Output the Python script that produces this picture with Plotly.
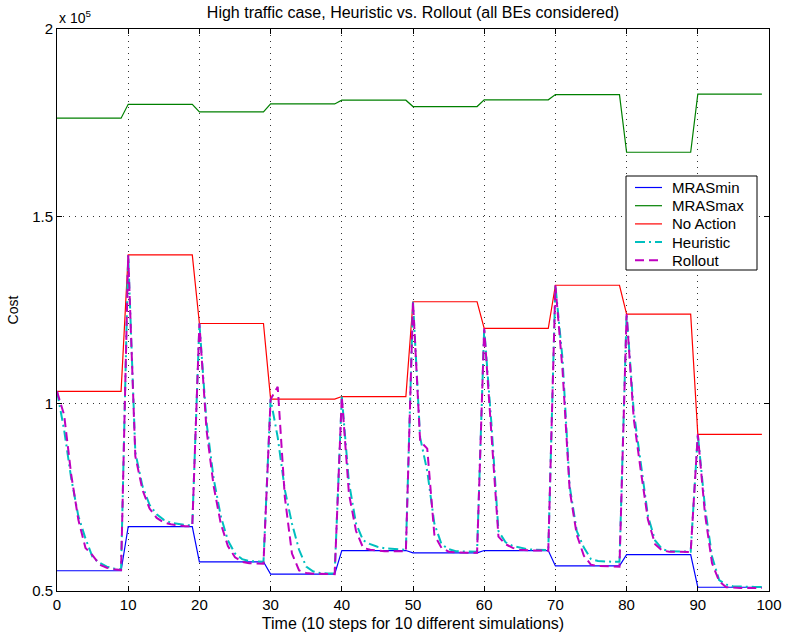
import plotly.graph_objects as go

# x axis: time step index (10 steps for each of 10 simulations)
time_steps = list(range(100))

# Cost values, in units of 1e5
mras_min = [
    0.554, 0.554, 0.554, 0.554, 0.554, 0.554, 0.554, 0.554, 0.554, 0.554,
    0.672, 0.672, 0.672, 0.672, 0.672, 0.672, 0.672, 0.672, 0.672, 0.672,
    0.578, 0.578, 0.578, 0.578, 0.578, 0.578, 0.578, 0.578, 0.578, 0.578,
    0.545, 0.545, 0.545, 0.545, 0.545, 0.545, 0.545, 0.545, 0.545, 0.545,
    0.608, 0.608, 0.608, 0.608, 0.608, 0.608, 0.608, 0.608, 0.608, 0.608,
    0.602, 0.602, 0.602, 0.602, 0.602, 0.602, 0.602, 0.602, 0.602, 0.602,
    0.608, 0.608, 0.608, 0.608, 0.608, 0.608, 0.608, 0.608, 0.608, 0.608,
    0.567, 0.567, 0.567, 0.567, 0.567, 0.567, 0.567, 0.567, 0.567, 0.567,
    0.597, 0.597, 0.597, 0.597, 0.597, 0.597, 0.597, 0.597, 0.597, 0.597,
    0.510, 0.510, 0.510, 0.510, 0.510, 0.510, 0.510, 0.510, 0.510, 0.510,
]

mras_max = [
    1.762, 1.762, 1.762, 1.762, 1.762, 1.762, 1.762, 1.762, 1.762, 1.762,
    1.799, 1.799, 1.799, 1.799, 1.799, 1.799, 1.799, 1.799, 1.799, 1.799,
    1.779, 1.779, 1.779, 1.779, 1.779, 1.779, 1.779, 1.779, 1.779, 1.779,
    1.800, 1.800, 1.800, 1.800, 1.800, 1.800, 1.800, 1.800, 1.800, 1.800,
    1.810, 1.810, 1.810, 1.810, 1.810, 1.810, 1.810, 1.810, 1.810, 1.810,
    1.793, 1.793, 1.793, 1.793, 1.793, 1.793, 1.793, 1.793, 1.793, 1.793,
    1.811, 1.811, 1.811, 1.811, 1.811, 1.811, 1.811, 1.811, 1.811, 1.811,
    1.825, 1.825, 1.825, 1.825, 1.825, 1.825, 1.825, 1.825, 1.825, 1.825,
    1.671, 1.671, 1.671, 1.671, 1.671, 1.671, 1.671, 1.671, 1.671, 1.671,
    1.826, 1.826, 1.826, 1.826, 1.826, 1.826, 1.826, 1.826, 1.826, 1.826,
]

no_action = [
    1.033, 1.033, 1.033, 1.033, 1.033, 1.033, 1.033, 1.033, 1.033, 1.033,
    1.397, 1.397, 1.397, 1.397, 1.397, 1.397, 1.397, 1.397, 1.397, 1.397,
    1.214, 1.214, 1.214, 1.214, 1.214, 1.214, 1.214, 1.214, 1.214, 1.214,
    1.012, 1.012, 1.012, 1.012, 1.012, 1.012, 1.012, 1.012, 1.012, 1.012,
    1.019, 1.019, 1.019, 1.019, 1.019, 1.019, 1.019, 1.019, 1.019, 1.019,
    1.272, 1.272, 1.272, 1.272, 1.272, 1.272, 1.272, 1.272, 1.272, 1.272,
    1.201, 1.201, 1.201, 1.201, 1.201, 1.201, 1.201, 1.201, 1.201, 1.201,
    1.316, 1.316, 1.316, 1.316, 1.316, 1.316, 1.316, 1.316, 1.316, 1.316,
    1.239, 1.239, 1.239, 1.239, 1.239, 1.239, 1.239, 1.239, 1.239, 1.239,
    0.918, 0.918, 0.918, 0.918, 0.918, 0.918, 0.918, 0.918, 0.918, 0.918,
]

heuristic = [
    1.033, 0.930, 0.800, 0.700, 0.640, 0.590, 0.575, 0.565, 0.560, 0.558,
    1.397, 0.870, 0.780, 0.730, 0.705, 0.690, 0.682, 0.678, 0.676, 0.675,
    1.214, 0.950, 0.800, 0.700, 0.635, 0.600, 0.585, 0.580, 0.578, 0.578,
    1.012, 0.910, 0.770, 0.680, 0.610, 0.565, 0.552, 0.548, 0.547, 0.547,
    1.019, 0.790, 0.680, 0.635, 0.625, 0.618, 0.614, 0.612, 0.610, 0.610,
    1.272, 0.910, 0.820, 0.680, 0.625, 0.612, 0.606, 0.605, 0.605, 0.605,
    1.201, 0.950, 0.660, 0.630, 0.620, 0.615, 0.612, 0.610, 0.610, 0.609,
    1.316, 1.120, 0.780, 0.660, 0.616, 0.585, 0.580, 0.578, 0.578, 0.578,
    1.239, 0.980, 0.840, 0.700, 0.635, 0.612, 0.606, 0.605, 0.605, 0.605,
    0.918, 0.725, 0.592, 0.529, 0.517, 0.512, 0.512, 0.511, 0.511, 0.511,
]

rollout = [
    1.033, 0.970, 0.810, 0.690, 0.615, 0.595, 0.570, 0.562, 0.558, 0.556,
    1.397, 0.860, 0.770, 0.720, 0.695, 0.683, 0.678, 0.675, 0.673, 0.673,
    1.214, 0.930, 0.780, 0.680, 0.620, 0.590, 0.578, 0.574, 0.573, 0.573,
    1.012, 1.045, 0.750, 0.600, 0.555, 0.548, 0.546, 0.545, 0.545, 0.545,
    1.019, 0.760, 0.660, 0.615, 0.610, 0.607, 0.606, 0.606, 0.606, 0.606,
    1.272, 0.900, 0.880, 0.650, 0.615, 0.605, 0.603, 0.602, 0.602, 0.602,
    1.201, 0.920, 0.645, 0.625, 0.615, 0.610, 0.608, 0.608, 0.608, 0.607,
    1.316, 1.090, 0.770, 0.650, 0.594, 0.570, 0.567, 0.566, 0.565, 0.565,
    1.239, 0.960, 0.820, 0.690, 0.625, 0.608, 0.605, 0.604, 0.604, 0.604,
    0.918, 0.707, 0.574, 0.526, 0.510, 0.508, 0.508, 0.508, 0.508, 0.508,
]

series_names = ["MRASmin", "MRASmax", "No Action", "Heuristic", "Rollout"]
x_ticks = [0, 10, 20, 30, 40, 50, 60, 70, 80, 90, 100]
y_ticks = [0.5, 1, 1.5, 2]
y_tick_labels = ["0.5", "1", "1.5", "2"]

FONT = "Liberation Sans, Arial, Helvetica, sans-serif"

styles = [
    dict(color="#0000FF", width=1.2, dash="solid"),
    dict(color="#008000", width=1.2, dash="solid"),
    dict(color="#FF0000", width=1.2, dash="solid"),
    dict(color="#00BFBF", width=2, dash="10px,4px,2px,4px"),
    dict(color="#BF00BF", width=2, dash="9px,5px"),
]
series_values = [mras_min, mras_max, no_action, heuristic, rollout]

fig = go.Figure()
for name, vals, st in zip(series_names, series_values, styles):
    fig.add_trace(go.Scatter(x=time_steps, y=vals, mode="lines", name=name,
                             line=st, showlegend=False))

axis_common = dict(
    showline=True, linecolor="black", linewidth=1, mirror="ticks",
    ticks="inside", ticklen=5, tickcolor="black", automargin=False,
    showgrid=True, gridcolor="#333333", gridwidth=1, griddash="1px,5px",
    zeroline=False, tickfont=dict(family=FONT, size=15, color="black"),
)

fig.update_xaxes(range=[0, 100], tickvals=x_ticks,
                 title=dict(text="Time (10 steps for 10 different simulations)",
                            font=dict(family=FONT, size=16, color="black"), standoff=5),
                 **axis_common)
fig.update_yaxes(range=[0.5, 2], tickvals=y_ticks, ticktext=y_tick_labels,
                 title=dict(text="Cost", font=dict(family=FONT, size=14, color="black"),
                            standoff=10),
                 **axis_common)

# ---- legend box drawn in paper coordinates (plot area: 57..769 x 29..591 px)
PL, PW, PB, PH = 57, 712, 591, 562


def px_x(p):
    return (p - PL) / PW


def px_y(p):
    return (PB - p) / PH


shapes = [dict(type="rect", xref="paper", yref="paper",
               x0=px_x(626), x1=px_x(757), y0=px_y(270), y1=px_y(176),
               line=dict(color="black", width=1), fillcolor="white", layer="above")]
annotations = []
entry_y = [187.5, 205.7, 223.9, 242.1, 260.3]
for name, st, ey in zip(series_names, styles, entry_y):
    shapes.append(dict(type="line", xref="paper", yref="paper",
                       x0=px_x(635), x1=px_x(662), y0=px_y(ey), y1=px_y(ey),
                       line=dict(color=st["color"], width=st["width"], dash=st["dash"]),
                       layer="above"))
    annotations.append(dict(text=name, xref="paper", yref="paper",
                            x=px_x(670), y=px_y(ey), xanchor="left", yanchor="middle",
                            showarrow=False,
                            font=dict(family=FONT, size=15, color="black")))

annotations.append(dict(text="x 10<sup>5</sup>", xref="paper", yref="paper",
                        x=0, y=1, xanchor="left", yanchor="bottom", yshift=1,
                        showarrow=False, font=dict(family=FONT, size=14, color="black")))

fig.update_layout(
    width=786, height=639,
    margin=dict(l=57, r=17, t=29, b=48),
    paper_bgcolor="white", plot_bgcolor="white",
    font=dict(family=FONT, size=15, color="black"),
    title=dict(text="High traffic case, Heuristic vs. Rollout (all BEs considered)",
               x=(57 + 769) / 2 / 786, xanchor="center", y=1 - 12 / 639, yanchor="middle",
               font=dict(family=FONT, size=16, color="black")),
    showlegend=False,
    shapes=shapes,
    annotations=annotations,
)

fig.write_html("out.html")
